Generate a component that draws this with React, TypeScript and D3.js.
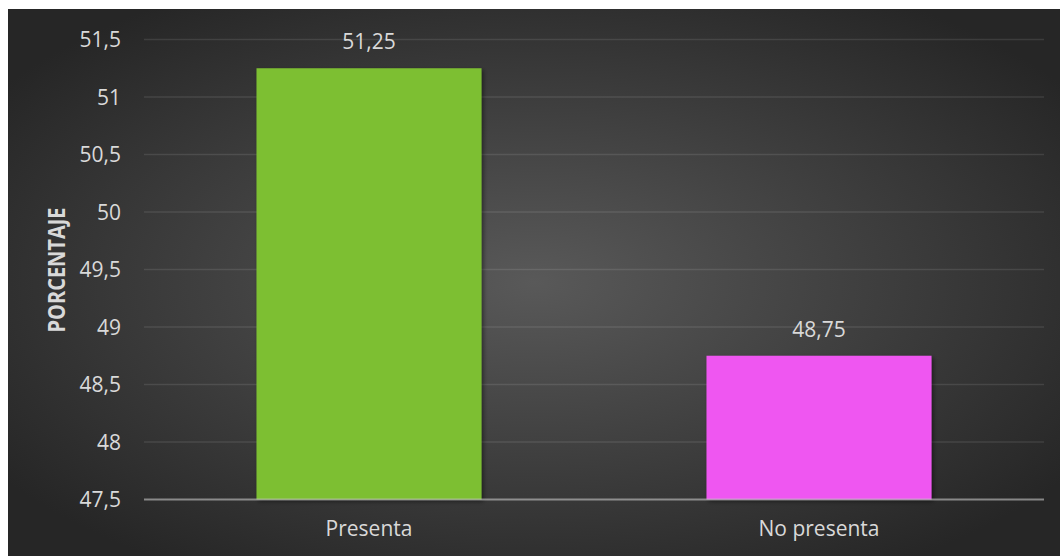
import React from "react";
import * as d3 from "d3";

const categories = ["Presenta", "No presenta"];
const values = [51.25, 48.75];
const barColors = ["#7dbf33", "#ef57f1"];
const yTicks = [47.5, 48, 48.5, 49, 49.5, 50, 50.5, 51, 51.5];
const yTitle = "PORCENTAJE";

const W = 1060;
const H = 556;
const fmt = (v: number) => String(v).replace(".", ",");

export default function App() {
  const x = d3
    .scaleBand<string>()
    .domain(categories)
    .range([144, 1044])
    .paddingInner(0.5)
    .paddingOuter(0.25);
  const y = d3.scaleLinear().domain([47.5, 51.5]).range([499.5, 39.5]);
  const font = "'Open Sans', 'DejaVu Sans', sans-serif";
  const txt = "#d9d9d9";

  return (
    <svg
      width={W}
      height={H}
      style={{ position: "absolute", left: 0, top: 0 }}
    >
      <defs>
        <radialGradient id="bg" cx="50%" cy="50%" r="62%" fx="50%" fy="50%">
          <stop offset="0%" stopColor="#595959" />
          <stop offset="100%" stopColor="#262626" />
        </radialGradient>
        <filter id="sh" x="-5%" y="-5%" width="115%" height="115%">
          <feDropShadow dx="2" dy="2" stdDeviation="2" floodColor="#000" floodOpacity="0.45" />
        </filter>
      </defs>
      <rect x={0} y={0} width={W} height={H} fill="#ffffff" />
      <rect x={8} y={9} width={W - 8} height={H - 9} fill="url(#bg)" />

      {yTicks.map((t) =>
        t === 47.5 ? null : (
          <line
            key={t}
            x1={144}
            x2={1044}
            y1={y(t)}
            y2={y(t)}
            stroke="rgba(255,255,255,0.1)"
            strokeWidth={1.5}
          />
        )
      )}

      {yTicks.map((t) => (
        <text
          key={"l" + t}
          x={121}
          y={y(t) + 7.5}
          textAnchor="end"
          fill={txt}
          fontFamily={font}
          fontSize={21}
        >
          {fmt(t)}
        </text>
      ))}

      {categories.map((c, i) => (
        <g key={c}>
          <rect
            x={x(c)!}
            y={y(values[i])}
            width={x.bandwidth()}
            height={y(47.5) - y(values[i])}
            fill={barColors[i]}
            filter="url(#sh)"
          />
          <text
            x={x(c)! + x.bandwidth() / 2}
            y={y(values[i]) - 19}
            textAnchor="middle"
            fill={txt}
            fontFamily={font}
            fontSize={21}
          >
            {fmt(values[i])}
          </text>
          <text
            x={x(c)! + x.bandwidth() / 2}
            y={536}
            textAnchor="middle"
            fill={txt}
            fontFamily={font}
            fontSize={21}
          >
            {c}
          </text>
        </g>
      ))}

      <line
        x1={144}
        x2={1044}
        y1={y(47.5)}
        y2={y(47.5)}
        stroke="rgba(200,200,200,0.6)"
        strokeWidth={2}
      />

      <text
        transform={`translate(65,270) rotate(-90)`}
        textAnchor="middle"
        fill={txt}
        fontFamily={font}
        fontSize={22.5}
        fontWeight="bold"
        textLength={125}
        lengthAdjust="spacingAndGlyphs"
      >
        {yTitle}
      </text>
    </svg>
  );
}
